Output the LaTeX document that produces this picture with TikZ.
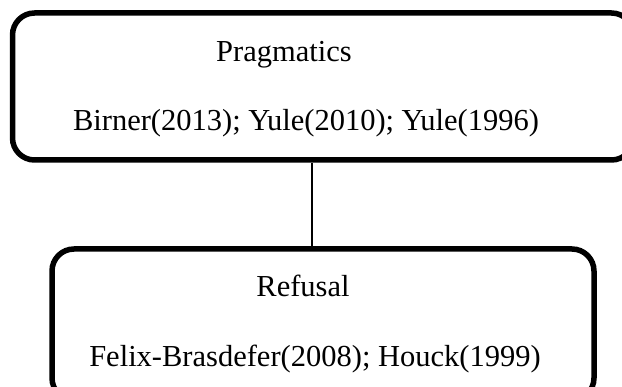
\documentclass[tikz,border=0pt]{standalone}
\usepackage{fontspec}
\setmainfont{Liberation Serif}

\begin{document}
\begin{tikzpicture}[
    x=1pt, y=-1pt,
    box/.style={rectangle, draw, line width=5.5pt, rounded corners=22pt, inner sep=0pt},
    txt/.style={anchor=base, inner sep=0pt, font=\fontsize{30.5}{36}\selectfont}
]
\useasboundingbox (0,0) rectangle (622,387);

% the two frames
\node[box, minimum width=621pt, minimum height=147pt] (pragmaticsbox) at (323,86.5) {};
\node[box, minimum width=542pt, minimum height=151pt] (refusalbox) at (323,324.5) {};

% texts
\node[txt] (pragmatics) at (284,62) {Pragmatics};
\node[txt] (pragmaticsrefs) at (306,131) {Birner(2013); Yule(2010); Yule(1996)};
\node[txt] (refusal) at (303,297) {Refusal};
\node[txt] (refusalrefs) at (315,367) {Felix-Brasdefer(2008); Houck(1999)};

\draw[line width=1.6pt] (pragmaticsbox.south -| 312,0) -- (refusalbox.north -| 312,0);

\end{tikzpicture}
\end{document}
